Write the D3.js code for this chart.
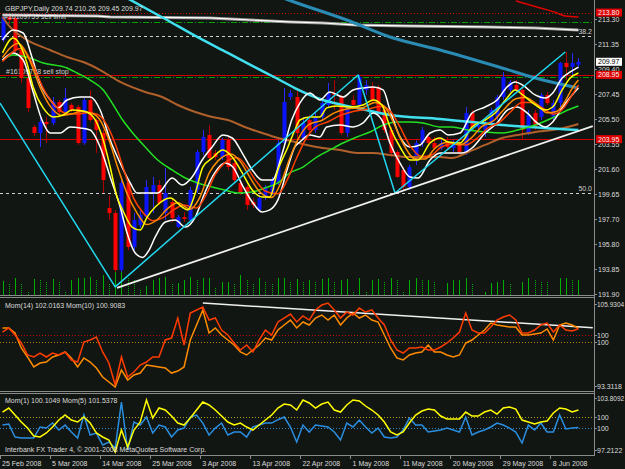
<html>
<script src='https://d3js.org/d3.v7.min.js'></script>
<style>
  body {margin: 0; background: #121612;}
  svg {display: block; font-family: 'Liberation Sans', Arial, sans-serif;}
</style>
<body>
<svg width=625 height=469></svg>
<script>
// GBPJPY daily bars, 25 Feb 2008 .. 12 Jun 2008
const opens  = [211.67,213.46,213.38,210.89,208.71,204.90,204.43,205.29,205.21,206.84,206.06,206.61,206.45,203.65,207.00,205.44,204.43,198.59,198.20,193.77,200.54,195.56,197.27,197.89,199.76,200.38,198.20,199.06,197.11,197.89,197.66,199.99,202.95,204.27,202.87,202.56,203.88,202.09,200.54,200.23,199.06,198.44,199.45,199.76,200.54,203.65,207.23,207.23,204.04,205.44,204.66,205.68,206.61,207.54,207.23,204.43,207.00,206.61,207.78,208.01,208.01,206.22,204.66,202.95,201.55,200.23,202.33,203.65,204.12,203.65,203.26,203.73,203.26,203.50,202.95,205.99,204.90,204.43,205.21,205.68,207.23,207.78,208.16,207.78,204.43,205.99,205.68,207.39,205.68,206.76,209.88,209.56,209.74];
const highs  = [213.69,213.69,213.69,211.04,208.86,205.05,205.68,205.68,207.23,207.00,207.93,206.76,206.61,207.15,207.78,205.60,204.66,199.60,198.44,200.77,200.77,198.20,198.44,200.77,201.01,200.77,201.71,199.37,198.05,198.28,200.23,203.11,204.66,205.05,203.11,204.04,204.12,202.33,200.77,200.38,199.37,199.60,200.38,201.01,203.88,207.93,207.78,207.78,205.68,205.83,205.99,207.00,208.32,208.55,207.39,206.61,207.39,208.94,208.55,208.40,208.16,206.38,204.90,203.11,201.78,201.94,203.88,204.90,204.43,204.12,204.04,204.12,203.88,203.88,206.45,206.22,205.29,205.44,206.38,207.39,209.18,208.55,208.55,208.16,206.22,206.22,207.54,207.62,207.00,209.95,210.73,210.65,210.26];
const lows   = [211.51,212.91,210.65,208.32,206.06,204.20,203.34,203.65,205.05,205.91,205.91,206.06,203.50,203.50,205.29,202.87,199.76,197.66,193.61,193.61,195.32,195.32,197.04,197.74,198.20,198.83,197.66,197.50,197.04,197.50,197.50,199.76,202.72,202.33,202.33,202.33,201.55,200.54,199.60,198.44,198.59,198.28,199.22,199.60,200.38,203.50,207.00,203.88,203.88,204.43,204.43,205.44,206.38,206.22,204.27,204.12,206.38,206.38,207.39,206.84,205.83,204.43,202.56,200.93,199.99,199.99,201.94,203.34,203.50,203.11,203.11,203.11,202.95,202.72,202.72,204.66,204.43,204.12,205.05,205.44,207.00,207.62,207.62,203.88,204.27,204.66,205.44,206.61,205.44,206.45,208.55,208.94,209.45];
const closes = [213.46,213.22,210.89,208.71,206.38,204.43,205.29,205.13,206.84,206.06,207.15,206.22,203.65,207.00,205.44,204.66,200.77,198.20,193.77,200.54,195.56,197.66,198.05,200.23,200.38,198.98,199.76,197.81,197.89,197.74,199.99,202.95,204.12,202.48,202.56,203.88,201.78,200.77,199.76,198.83,198.83,199.37,200.23,200.77,203.65,206.84,207.54,204.43,205.21,204.66,205.68,206.76,207.54,207.39,204.43,206.45,206.61,208.79,208.16,207.00,205.99,204.66,202.87,201.01,200.23,201.78,203.65,204.66,203.65,203.26,203.65,203.34,203.50,202.95,205.99,204.90,205.05,205.21,206.22,207.23,208.79,208.40,207.78,204.66,205.83,204.90,207.39,206.76,206.76,209.88,209.56,209.88,209.97];
const volumes = [8400,7200,10200,7200,1800,9600,9000,7800,9600,8400,1800,9000,10200,10200,10800,9000,12000,7200,15000,16800,10800,9000,3000,5400,9000,10200,10800,7200,7200,9000,10800,9000,10200,10200,4800,7800,7800,7200,12000,9000,7200,10200,7800,7200,10200,10200,7800,9600,8400,9000,7800,9600,10200,7800,9000,9600,2400,10200,1800,9000,9600,8400,10200,9000,1800,9000,10200,9000,9000,7800,0,7200,9000,9000,10200,7200,0,1800,7200,7800,9000,6600,0,7800,10200,9000,8400,7800,0,10200,10200,9000,9000];

// indicator lines: [bar, price]
const yellowMA = [[0,210.66],[1.7,211.82],[3.9,209.88],[4.9,208.01],[6.5,206.38],[8.1,205.68],[9.7,205.83],[11.1,206.22],[12.9,206.14],[14.5,205.68],[16.1,203.88],[17.2,201.78],[18.3,199.45],[19.2,198.44],[20.7,197.11],[22,196.88],[23.1,197.89],[24.4,198.67],[26.8,199.37],[28.7,198.67],[29.6,198.44],[30.8,199.76],[32,201.78],[33.5,202.48],[35.2,203.11],[36.7,202.56],[38.3,201.32],[39.9,199.99],[41.5,199.45],[42.7,199.45],[44,201.55],[45.6,203.34],[46.7,204.66],[47.5,205.44],[49.1,205.68],[50.7,205.68],[51.8,206.38],[53.4,206.53],[55.5,206.45],[57.6,206.61],[59.2,207.00],[60.6,206.61],[61.9,204.90],[63.5,203.34],[65.1,202.33],[66.4,202.33],[68.3,203.65],[69.9,204.04],[71.2,203.73],[73.1,203.65],[75,204.90],[77.1,205.44],[78.7,205.99],[80.6,207.15],[81.9,207.78],[83.1,207.39],[85.1,206.61],[86.7,206.22],[87.9,206.45],[89.4,207.78],[90.7,208.71],[92,209.10]];
const orangeMA = [[0,210.3],[2.5,211.4],[4.5,209.9],[6,208.0],[7.5,206.6],[9.5,205.8],[11,205.9],[12.5,206.1],[14,206.0],[15.5,205.5],[17,203.9],[18.5,201.6],[20,199.6],[21.5,198.2],[23,197.3],[24.5,197.6],[26.5,198.6],[28,199.0],[30,198.5],[31.5,199.4],[33,201.3],[34.5,202.3],[36.5,202.8],[38,202.2],[39.5,201.0],[41,199.9],[43,199.4],[44.5,200.6],[46,202.6],[47.5,204.2],[49,205.1],[51,205.4],[53,206.0],[55,206.3],[57.5,206.4],[59.5,206.8],[61,206.5],[62.5,205.2],[64,203.6],[66,202.4],[67.5,202.4],[69,203.2],[71,203.7],[73,203.5],[75,204.1],[76.5,204.9],[78.5,205.4],[80,206.2],[82,207.1],[83.5,207.2],[85.5,206.6],[87,206.0],[88.5,206.1],[90,207.0],[91,207.9],[92,208.55]];
const redMA = [[0,210.0],[3,211.0],[5,209.6],[6.5,207.9],[8.5,206.5],[10.5,205.9],[12,205.9],[13.5,206.0],[15,205.9],[16.5,205.2],[18,203.6],[19.5,201.4],[21,199.3],[22.5,198.2],[24,197.6],[25.5,197.8],[27.5,198.5],[29,198.8],[31,198.6],[32.5,199.6],[34,201.2],[35.5,202.1],[37.5,202.5],[39,201.8],[40.5,200.7],[42,199.9],[44,199.7],[45.5,200.8],[47,202.5],[48.5,204.0],[50,204.9],[52,205.3],[54,205.8],[56,206.1],[58.5,206.3],[60.5,206.5],[62,206.1],[63.5,204.9],[65,203.5],[67,202.6],[68.5,202.7],[70,203.3],[72,203.6],[74,203.5],[76,204.1],[77.5,204.8],[79.5,205.3],[81,206.0],[83,206.8],[84.5,206.8],[86.5,206.3],[88,205.9],[89.5,206.3],[91,207.4],[92,208.16]];
const upperBand = [[0,211.67],[1.7,212.44],[3.3,212.21],[4.7,210.34],[6,208.32],[7.9,206.84],[8.9,206.38],[10.3,207.00],[12.4,207.23],[14,207.23],[15.6,206.22],[17.2,203.88],[18.8,202.09],[20.4,200.54],[21.5,199.76],[22.8,199.76],[24.8,199.76],[27.1,200.93],[28.7,200.38],[30.3,201.01],[31.9,202.33],[33.5,203.34],[35.2,204.27],[36.7,204.04],[38.3,202.87],[39.9,201.55],[41.5,200.77],[43.1,200.77],[44.7,202.87],[46.2,205.44],[47.5,206.76],[49.1,207.54],[50.7,207.00],[52.3,207.62],[54.4,207.23],[56,207.78],[57.6,207.93],[59.2,208.01],[60.8,207.78],[61.9,206.22],[63.5,204.12],[65.1,203.34],[66.7,203.50],[68.3,204.43],[69.9,204.66],[71.2,204.27],[73.1,204.43],[75,205.99],[77.1,206.45],[79,207.00],[80.6,208.01],[81.9,208.40],[83.1,208.16],[85.1,207.39],[86.7,207.15],[87.9,207.54],[89.4,208.71],[90.7,209.18],[92,209.56]];
const lowerBand = [[0,210.11],[1.7,210.65],[3.3,210.11],[4.9,207.62],[6.3,205.44],[7.6,204.43],[9.2,204.43],[10.8,204.90],[12.4,204.82],[14,204.66],[15.6,203.34],[17.2,201.01],[18.8,198.67],[19.9,196.65],[21.2,195.09],[22.4,194.75],[23.4,195.3],[24.4,196.34],[26,197.50],[27.6,197.66],[29.2,197.11],[30.8,197.89],[32.3,199.76],[33.9,201.32],[35.5,202.09],[36.8,201.78],[38.3,200.38],[39.9,199.06],[41.5,198.28],[42.7,198.44],[44,199.22],[45.6,201.78],[46.7,203.34],[47.5,203.73],[49.1,204.27],[50.7,204.12],[51.8,204.90],[53.9,205.05],[56,204.90],[57.6,205.21],[59.2,205.99],[60.6,205.44],[61.9,203.65],[63.5,202.09],[65.1,201.01],[66.4,200.93],[68.3,202.33],[69.9,202.87],[71.2,202.87],[73.4,202.87],[75,203.26],[77.1,204.43],[79,205.21],[80.7,206.22],[82.2,206.45],[83.8,205.99],[85.4,205.21],[86.7,204.90],[87.9,205.29],[89.5,206.45],[91,207.39],[92,207.93]];
const greenMA = [[0,210.11],[1.7,210.50],[4.4,210.26],[6.5,209.88],[10.3,209.49],[11.9,209.10],[14,208.55],[16.1,207.78],[17.7,206.61],[19.2,205.44],[20.8,204.43],[22.8,203.34],[24.8,202.33],[27.1,201.55],[29.2,200.93],[31.2,200.54],[33.5,200.23],[35.5,199.99],[37.6,199.76],[39.9,199.84],[41.9,200.15],[44,200.54],[45.9,201.32],[48,201.78],[50.2,202.56],[52.3,203.11],[54.4,203.65],[56.6,204.12],[58.7,204.51],[60.8,205.05],[63,205.29],[65.1,205.29],[67.2,205.21],[69.9,204.90],[71.8,204.90],[74.4,204.66],[77.1,204.51],[79.8,204.43],[82.3,204.66],[85.1,205.05],[87.8,205.60],[90.3,206.22],[92,206.53]];
const brownMA = [[0,213.46],[1.2,212.68],[3.9,211.67],[7.6,210.89],[10.3,210.34],[12.9,209.95],[15.6,209.33],[18.8,208.40],[22.8,207.62],[25.5,207.23],[28,206.61],[30.8,206.06],[33.5,205.68],[36,205.44],[38.7,204.90],[41.5,204.43],[44,204.04],[46.7,203.73],[48.6,203.50],[51.2,203.26],[53.9,203.11],[56.6,202.87],[59.2,202.87],[61.9,202.72],[64.6,202.56],[67.2,202.56],[69.9,202.56],[71.8,202.48],[74.4,202.95],[77.1,203.50],[79.8,204.04],[82.3,204.27],[85.1,204.51],[87.8,204.66],[90.3,204.90],[92,205.13]];
const cyanMA = [[20,214.9],[26,213.30],[30.8,211.98],[36,210.66],[40.3,209.56],[44,208.63],[46.7,207.93],[51.2,207.00],[56.6,206.38],[61.9,205.83],[69.9,205.52],[79.8,205.05],[92,204.66]];
const tealMA = [[45,214.9],[47.5,214.47],[55,213.22],[61.9,211.90],[69.9,210.89],[79.8,209.49],[85.1,208.71],[92,207.93]];
const topWhiteMA = [[0,213.61],[15.1,213.53],[17.2,213.46],[33.1,213.38],[45.9,213.07],[51.2,212.99],[56.6,212.83],[64.6,212.76],[77.1,212.68],[85.1,212.60],[92,212.44]];
const topRedMA = [[82,214.7],[85.9,214.16],[88.6,213.77],[89.9,213.53],[92,213.46]];
const zigzag = [[-0.4,206.76],[18,192.45],[56.8,208.94],[62.7,199.76],[89.9,210.73]];
const supportLine = [[18.3,192.37],[94.3,204.97]];

// momentum windows, one value per bar
const mom14 = [102.06,102.06,101.34,99.19,97.90,96.47,97.04,97.18,97.90,98.19,98.62,97.76,96.47,97.76,97.18,96.32,95.03,94.31,93.60,96.03,94.60,95.32,95.60,96.75,96.61,96.47,96.32,95.60,95.89,96.47,100.34,102.49,104.64,101.34,102.06,101.05,100.34,99.62,98.62,98.19,98.90,99.62,100.62,100.34,101.77,102.49,103.20,102.06,102.92,102.49,103.49,103.92,103.20,103.92,102.49,103.49,104.21,103.49,103.92,103.20,102.92,101.05,99.19,97.76,97.47,98.19,98.47,98.62,99.62,98.62,98.62,98.19,97.90,98.19,99.91,100.34,101.05,101.77,102.77,102.49,102.34,102.20,102.20,101.05,101.05,101.20,101.34,101.92,100.34,102.49,102.77,102.49,102.02];
const mom10 = [100.43,101.01,100.00,98.86,97.14,96.85,97.42,96.85,97.42,97.14,97.57,96.42,96.13,99.00,99.29,99.72,97.57,95.99,92.83,96.85,93.98,94.70,95.70,96.13,96.85,96.85,99.29,99.57,102.44,98.57,103.16,103.59,104.02,102.15,102.44,100.72,100.00,98.86,97.85,98.57,97.57,99.29,100.72,100.00,101.87,102.44,103.01,101.87,102.73,102.15,103.59,104.30,104.59,103.59,102.44,103.30,102.87,103.87,103.30,103.59,102.44,101.44,99.29,97.85,97.42,98.14,98.14,98.28,97.85,97.85,98.28,98.86,99.57,100.43,103.16,100.72,100.29,100.29,101.15,102.15,102.58,102.87,102.15,100.29,100.29,100.72,101.44,101.72,100.43,101.44,100.72,100.58,100.91];
const mom1 = [100.39,100.51,99.03,98.92,98.92,98.92,100.17,100.05,100.62,99.83,100.39,99.60,98.92,101.53,99.26,99.48,98.12,98.46,97.78,103.01,97.55,100.74,100.39,101.30,99.48,100.39,100.17,99.03,99.83,100.05,101.30,101.53,100.62,99.26,100.05,100.62,99.26,99.60,99.60,99.03,100.17,100.39,100.62,100.62,101.00,101.30,100.17,98.46,100.39,99.60,100.39,100.28,100.17,99.60,98.69,100.62,100.17,100.96,100.17,99.48,100.05,99.03,98.92,99.03,99.83,101.19,100.39,100.39,99.60,99.71,99.83,100.05,99.83,99.60,101.30,99.26,99.60,99.83,100.17,100.62,100.39,100.05,99.60,98.35,100.39,99.83,100.62,99.60,99.60,101.53,99.94,100.05,100.10];
const mom5 = [101.10,101.98,100.44,98.90,97.58,95.83,95.61,96.49,97.80,99.34,100.44,99.34,98.90,100.00,98.68,96.49,95.61,94.95,92.31,97.14,93.41,97.14,98.90,103.74,99.78,101.98,101.54,100.22,98.68,98.24,99.78,101.54,103.30,102.64,101.54,100.22,98.90,98.24,98.68,97.80,97.14,98.24,99.34,100.44,101.98,102.86,102.64,101.54,103.74,103.08,101.98,102.86,103.30,101.54,101.10,102.64,103.74,103.52,102.42,101.54,100.44,98.90,96.71,96.05,96.71,98.68,100.44,101.32,101.76,101.54,100.22,99.56,99.56,99.56,101.10,100.22,100.22,101.10,101.54,100.66,101.98,102.20,101.76,99.34,98.90,98.46,98.90,99.12,100.88,101.98,101.76,101.10,101.54];
const momTrend = [[32,105.64],[94.3,102.11]];

// levels and labels
const stopLevel = 213.80, sellLimit = 213.05, fib382 = 211.98, fib500 = 199.76;
const redLevels = [208.95, 203.95], sellStop = 208.86, bid = 209.97;
const boxPrices = [213.80, 208.95, 203.95];
const priceTicks = [213.30,211.35,209.40,207.45,205.50,203.55,201.60,199.65,197.70,195.80,193.85,191.90];
const dateBars = [0,8,16,24,32,40,48,56,64,72,80,88];
const dateLabels = ['25 Feb 2008','5 Mar 2008','14 Mar 2008','25 Mar 2008','3 Apr 2008','13 Apr 2008','22 Apr 2008','1 May 2008','11 May 2008','20 May 2008','29 May 2008','8 Jun 2008'];
const mom14Range = [93.3118, 105.9304], mom1Range = [97.2122, 103.8092];

var svg = d3.select('svg');
svg.append('rect').attr('width', 625).attr('height', 469).attr('fill', '#121612');

var x = d3.scaleLinear().domain([0, 92]).range([2.5, 578.4]);
var y = d3.scaleLinear().domain([191.90, 213.30]).range([294, 19]);
var yVol = d3.scaleLinear().domain([0, 16800]).range([295, 267]);
var y14 = d3.scaleLinear().domain(mom14Range).range([389, 301]);
var y10 = d3.scaleLinear().domain([92.26, 104.88]).range([389, 301]);
var y1 = d3.scaleLinear().domain(mom1Range).range([453, 395]);
var y5 = d3.scaleLinear().domain([92.09, 104.84]).range([453, 395]);

var defs = svg.append('defs');
[['cMain', 0, 295], ['cM2', 298, 93], ['cM3', 394, 61]].forEach(c => {
  defs.append('clipPath').attr('id', c[0]).append('rect')
    .attr('x', 0).attr('y', c[1]).attr('width', 594).attr('height', c[2]);
});

var main = svg.append('g').attr('clip-path', 'url(#cMain)');
var font = 7;

function hline(g, yy, color, dash, w) {
  g.append('line').attr('x1', 0).attr('x2', 594).attr('y1', Math.round(yy) + 0.5).attr('y2', Math.round(yy) + 0.5)
    .attr('stroke', color).attr('stroke-width', w || 1).attr('stroke-dasharray', dash || null);
}
function pline(g, pts, sc, color, w, curve) {
  var gen = d3.line().x(d => x(d[0])).y(d => sc(d[1])).curve(curve || d3.curveMonotoneX);
  g.append('path').attr('d', gen(pts)).attr('fill', 'none').attr('stroke', color)
    .attr('stroke-width', w).attr('stroke-linejoin', 'round');
}

// volumes
main.selectAll('line.vol').data(volumes).enter().append('line')
  .attr('x1', (d, i) => Math.round(x(i)) + 0.5).attr('x2', (d, i) => Math.round(x(i)) + 0.5)
  .attr('y1', yVol(0)).attr('y2', d => yVol(d))
  .attr('stroke', '#00b000').attr('stroke-width', 1)
  .attr('stroke-dasharray', (d, i) => (i > 0 && d < volumes[i - 1]) ? '1,1' : null);

// order / fib levels
hline(main, y(stopLevel), '#d00000', '1,2');
hline(main, y(sellLimit), '#00a000', '6,2,1,2');
hline(main, y(fib382), '#cfcfcf', '3,3');
redLevels.forEach(v => hline(main, y(v), '#d00000'));
hline(main, y(sellStop) + 1, '#00a000', '6,2,1,2');
hline(main, y(fib500), '#cfcfcf', '3,3');

main.append('text').attr('x', 6).attr('y', y(sellStop) - 2).text('#16109758 sell stop')
  .attr('fill', '#d0d0d0').style('font-size', font + 'px');
main.append('text').attr('x', 592).attr('y', y(fib382) - 2).text('38.2').attr('text-anchor', 'end')
  .attr('fill', '#d0d0d0').style('font-size', font + 'px');
main.append('text').attr('x', 592).attr('y', y(fib500) - 2).text('50.0').attr('text-anchor', 'end')
  .attr('fill', '#d0d0d0').style('font-size', font + 'px');

// candles
var bars = d3.range(opens.length).map(i => ({i: i, o: opens[i], h: highs[i], l: lows[i], c: closes[i]}));
var cg = main.append('g');
cg.selectAll('line').data(bars).enter().append('line')
  .attr('x1', d => Math.round(x(d.i)) + 0.5).attr('x2', d => Math.round(x(d.i)) + 0.5)
  .attr('y1', d => y(d.h)).attr('y2', d => y(d.l))
  .attr('stroke', d => d.c >= d.o ? '#2a2aff' : '#b00000').attr('stroke-width', 1);
cg.selectAll('rect').data(bars).enter().append('rect')
  .attr('x', d => Math.round(x(d.i)) - 1.5).attr('width', 4)
  .attr('y', d => y(Math.max(d.o, d.c))).attr('height', d => Math.max(1, Math.abs(y(d.o) - y(d.c))))
  .attr('fill', d => d.c >= d.o ? '#0a14ff' : '#ff0000');

// moving averages and envelopes
pline(main, topWhiteMA, y, '#9a9a9a', 3, d3.curveLinear);
pline(main, topWhiteMA, y, '#ffffff', 1.2, d3.curveLinear);
pline(main, topRedMA, y, '#e00000', 1.5);
pline(main, brownMA, y, '#b0602a', 2);
pline(main, tealMA, y, '#2a8cb5', 3);
pline(main, cyanMA, y, '#40e0f0', 2.5);
pline(main, greenMA, y, '#22e022', 1.5);
pline(main, upperBand, y, '#ffffff', 1.5);
pline(main, lowerBand, y, '#ffffff', 1.5);
pline(main, redMA, y, '#ff4000', 1.5);
pline(main, orangeMA, y, '#ff8c00', 1.5);
pline(main, yellowMA, y, '#ffff00', 1.5);

// trend lines
pline(main, zigzag, y, '#20d8f0', 1.5, d3.curveLinear);
pline(main, supportLine, y, '#f0f0f0', 1.8, d3.curveLinear);

main.append('text').attr('x', 4).attr('y', y(sellLimit) - 3).text('#16109759 sell limit')
  .attr('fill', '#d8d8d8').style('font-size', font + 'px');

// momentum panels
var m2 = svg.append('g').attr('clip-path', 'url(#cM2)');
hline(m2, y10(100), '#c00000', '1,2');
hline(m2, y14(100), '#c08000', '1,2');
pline(m2, momTrend, y14, '#f0f0f0', 1.5, d3.curveLinear);
var lineGen = sc => d3.line().x((d, i) => x(i)).y(d => sc(d));
m2.append('path').attr('d', lineGen(y14)(mom14)).attr('fill', 'none').attr('stroke', '#ff8c00').attr('stroke-width', 1.5);
m2.append('path').attr('d', lineGen(y10)(mom10)).attr('fill', 'none').attr('stroke', '#ff3c00').attr('stroke-width', 1.5);

var m3 = svg.append('g').attr('clip-path', 'url(#cM3)');
hline(m3, y5(100), '#b0a020', '1,2');
hline(m3, y1(100), '#3088c8', '1,2');
m3.append('path').attr('d', lineGen(y1)(mom1)).attr('fill', 'none').attr('stroke', '#2a8ee0').attr('stroke-width', 1.5);
m3.append('path').attr('d', lineGen(y5)(mom5)).attr('fill', 'none').attr('stroke', '#ffff00').attr('stroke-width', 1.5);

// frame
[295.5, 297.5, 391.5, 393.5, 455.5].forEach(v => {
  svg.append('line').attr('x1', 0).attr('x2', 594).attr('y1', v).attr('y2', v).attr('stroke', '#8a8a8a');
});
svg.append('line').attr('x1', 594.5).attr('x2', 594.5).attr('y1', 0).attr('y2', 456).attr('stroke', '#8a8a8a');

// right price scale
var tc = '#dcdcdc';
priceTicks.forEach(v => {
  var yy = Math.round(y(v)) + 0.5;
  svg.append('line').attr('x1', 594).attr('x2', 597).attr('y1', yy).attr('y2', yy).attr('stroke', '#8a8a8a');
  svg.append('text').attr('x', 598).attr('y', yy + 2.5).text(v.toFixed(2)).attr('fill', tc).style('font-size', font + 'px');
});
boxPrices.forEach(v => {
  var yy = y(v);
  svg.append('rect').attr('x', 596).attr('y', yy - 4).attr('width', 26).attr('height', 8).attr('fill', '#e00000');
  svg.append('text').attr('x', 598).attr('y', yy + 2.5).text(v.toFixed(2)).attr('fill', '#f4f4f4').style('font-size', font + 'px');
});
svg.append('rect').attr('x', 596).attr('y', y(bid) - 4).attr('width', 26).attr('height', 8).attr('fill', '#ffffff');
svg.append('text').attr('x', 598).attr('y', y(bid) + 2.5).text(bid.toFixed(2)).attr('fill', '#000').style('font-size', font + 'px');

// panel scales
[[mom14Range[1].toFixed(4), y14(mom14Range[1]) + 3], ['100', y10(100)], ['100', y14(100)], [mom14Range[0].toFixed(4), y14(mom14Range[0]) - 3],
 [mom1Range[1].toFixed(4), y1(mom1Range[1]) + 3], ['100', y5(100)], ['100', y1(100)], [mom1Range[0].toFixed(4), y1(mom1Range[0]) - 3]]
  .forEach(t => {
    svg.append('line').attr('x1', 594).attr('x2', 597).attr('y1', Math.round(t[1]) + 0.5).attr('y2', Math.round(t[1]) + 0.5).attr('stroke', '#8a8a8a');
    svg.append('text').attr('x', 597).attr('y', t[1] + 2.5).text(t[0]).attr('fill', tc)
      .style('font-size', (t[0].length > 7 ? 6.5 : font) + 'px');
  });

// time axis
dateBars.forEach((b, k) => {
  var xx = Math.round(x(b) - 3) + 0.5;
  svg.append('line').attr('x1', xx).attr('x2', xx).attr('y1', 455).attr('y2', 459).attr('stroke', '#8a8a8a');
  svg.append('text').attr('x', x(b) - 0.5).attr('y', 466).text(dateLabels[k]).attr('fill', tc).style('font-size', font + 'px');
});

// captions
svg.append('text').attr('x', 5).attr('y', 11).text('GBPJPY,Daily  209.74 210.26 209.45 209.97').attr('fill', tc).style('font-size', font + 'px');
svg.append('text').attr('x', 5).attr('y', 308).text('Mom(14) 102.0163  Mom(10) 100.9083').attr('fill', tc).style('font-size', font + 'px');
svg.append('text').attr('x', 5).attr('y', 403).text('Mom(1) 100.1049  Mom(5) 101.5378').attr('fill', tc).style('font-size', font + 'px');
svg.append('text').attr('x', 5).attr('y', 452).text('Interbank FX Trader 4, \u00a9 2001-2008 MetaQuotes Software Corp.').attr('fill', tc).style('font-size', font + 'px');
</script>
</body>
</html>
